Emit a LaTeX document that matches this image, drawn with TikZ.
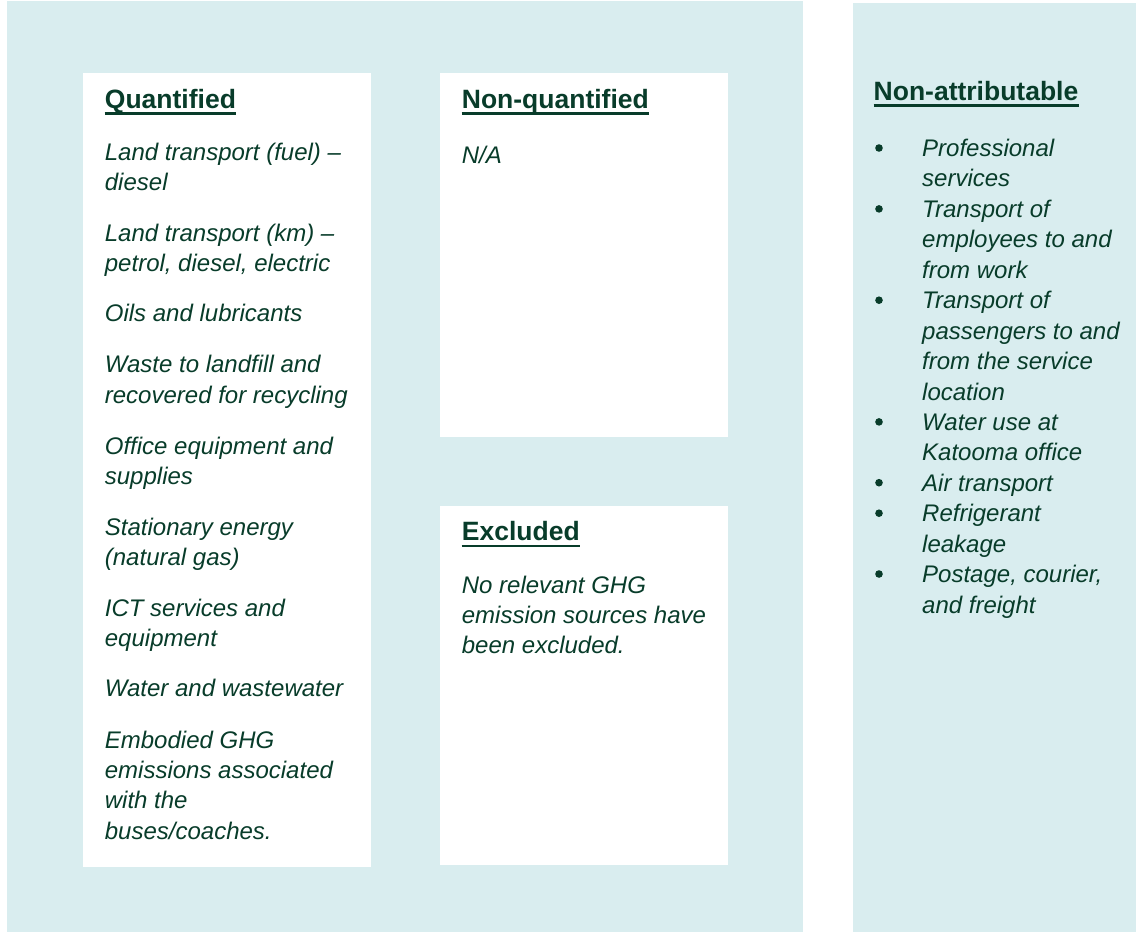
\documentclass[tikz,border=0pt]{standalone}
\usepackage{fontspec}
\setmainfont{Liberation Sans}
\definecolor{bg}{RGB}{217,237,239}
\definecolor{ink}{RGB}{8,60,42}
\begin{document}
\begin{tikzpicture}[x=1pt,y=-1pt,
  panel/.style={fill=bg},
  card/.style={fill=white},
  title/.style={font=\fontsize{26.5}{30}\selectfont\bfseries, text=ink, anchor=base west, inner sep=0pt},
  % multi-line nodes: base anchor = baseline of LAST line
  item/.style={font=\fontsize{24}{30.3}\selectfont\itshape, text=ink, anchor=base west, inner sep=0pt, align=left},
  litem/.style={font=\fontsize{24}{30.43}\selectfont\itshape, text=ink, anchor=base west, inner sep=0pt, align=left},
  dot/.style={circle, fill=ink, minimum size=7.6pt, inner sep=0pt},
  uline/.style={draw=ink, line width=2.4pt}
]
\useasboundingbox (0,0) rectangle (1136,932);
% panels
\fill[panel] (7,1) rectangle (803,932);
\fill[panel] (853,3) rectangle (1136,932);
% cards
\fill[card] (83,73) rectangle (371,867);
\fill[card] (440,73) rectangle (728,437);
\fill[card] (440,506) rectangle (728,865);

% Quantified
\node[title] (tq) at (104.7,108.3) {Quantified};
\draw[uline] ([yshift=-5pt]tq.base west) -- ([yshift=-5pt]tq.base east);
\node[item] (q1) at (104.7,190.3) {Land transport (fuel) –\\diesel};
\node[item] (q2) at (104.7,271.3) {Land transport (km) –\\petrol, diesel, electric};
\node[item] (q3) at (104.7,321.7) {Oils and lubricants};
\node[item] (q4) at (104.7,403) {Waste to landfill and\\recovered for recycling};
\node[item] (q5) at (104.7,484.3) {Office equipment and\\supplies};
\node[item] (q6) at (104.7,565.3) {Stationary energy\\(natural gas)};
\node[item] (q7) at (104.7,646.8) {ICT services and\\equipment};
\node[item] (q8) at (104.7,696) {Water and wastewater};
\node[item] (q9) at (104.7,839.2) {Embodied GHG\\emissions associated\\with the\\buses/coaches.};

% Non-quantified
\node[title] (tn) at (461.7,108.3) {Non-quantified};
\draw[uline] ([yshift=-5pt]tn.base west) -- ([yshift=-5pt]tn.base east);
\node[item] (n1) at (461.7,163) {N/A};

% Excluded
\node[title] (te) at (461.7,540.7) {Excluded};
\draw[uline] ([yshift=-5pt]te.base west) -- ([yshift=-5pt]te.base east);
\node[item] (e1) at (461.7,653.9) {No relevant GHG\\emission sources have\\been excluded.};

% Non-attributable
\node[title] (ta) at (873.5,100.5) {Non-attributable};
\draw[uline] ([yshift=-5pt]ta.base west) -- ([yshift=-5pt]ta.base east);
\node[dot] (b1) at (879,148) {};
\node[litem] (a1) at (922,186.9) {Professional\\services};
\node[dot] (b2) at (879,208.9) {};
\node[litem] (a2) at (922,278.2) {Transport of\\employees to and\\from work};
\node[dot] (b3) at (879,300.2) {};
\node[litem] (a3) at (922,400) {Transport of\\passengers to and\\from the service\\location};
\node[dot] (b4) at (879,421.9) {};
\node[litem] (a4) at (922,460.8) {Water use at\\Katooma office};
\node[dot] (b5) at (879,482.7) {};
\node[litem] (a5) at (922,491.2) {Air transport};
\node[dot] (b6) at (879,513.2) {};
\node[litem] (a6) at (922,552.1) {Refrigerant\\leakage};
\node[dot] (b7) at (879,574) {};
\node[litem] (a7) at (922,613) {Postage, courier,\\and freight};
\end{tikzpicture}
\end{document}
